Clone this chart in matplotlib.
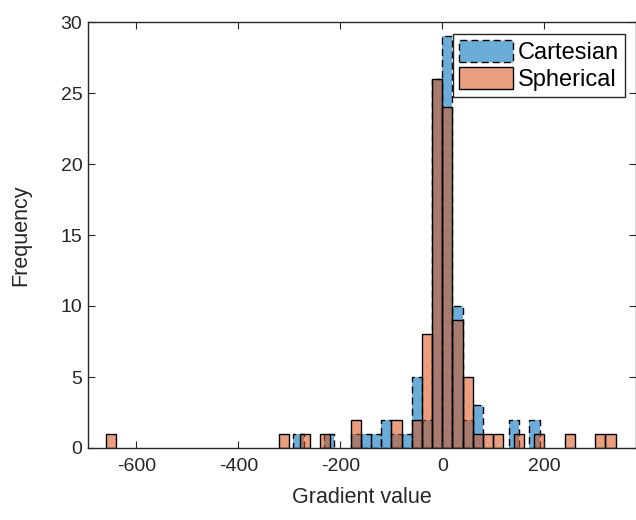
import numpy as np
import matplotlib
matplotlib.use('Agg')
import matplotlib.pyplot as plt
from matplotlib.colors import to_rgba

plt.rcParams['font.family'] = ['Liberation Sans', 'DejaVu Sans']
plt.rcParams['axes.unicode_minus'] = False

# histogram data (bin left edge, count), bin width 20
bin_width = 20
cart_left = [-292, -232, -180, -160, -140, -120, -100, -80, -60, -40, -20, 0, 20, 40, 60, 131, 171]
cart_count = [1, 1, 1, 1, 1, 2, 1, 1, 5, 2, 26, 29, 10, 2, 3, 2, 2]
sph_left = [-660, -320, -280, -240, -180, -100, -60, -40, -20, 0, 20, 40, 60, 80, 100, 140, 180, 240, 300, 320]
sph_count = [1, 1, 1, 1, 2, 2, 2, 8, 26, 24, 9, 5, 1, 1, 1, 1, 1, 1, 1, 1]

x_ticks = [-600, -400, -200, 0, 200]
y_ticks = [0, 5, 10, 15, 20, 25, 30]

blue = to_rgba((0, 0.447, 0.741), 0.58)
orange = to_rgba((0.85, 0.325, 0.098), 0.55)
dark = '#262626'
dash = (0, (5, 3))

fig = plt.figure(figsize=(6.36, 5.2), dpi=100)
ax = fig.add_axes([88 / 636, 72 / 520, 548 / 636, 426 / 520])

# blue first, orange drawn on top -> brown where they overlap
ax.bar(cart_left, cart_count, width=bin_width, align='edge', facecolor=blue,
       edgecolor='none')
ax.bar(cart_left, cart_count, width=bin_width, align='edge', fill=False,
       edgecolor='black', linewidth=1.0, linestyle=dash)
ax.bar(sph_left, sph_count, width=bin_width, align='edge', facecolor=orange,
       edgecolor='none')
ax.bar(sph_left, sph_count, width=bin_width, align='edge', fill=False,
       edgecolor='black', linewidth=1.0)

h1 = matplotlib.patches.Patch(facecolor=blue, edgecolor='black', linewidth=1.0,
                              linestyle=dash, label='Cartesian')
h2 = matplotlib.patches.Patch(facecolor=orange, edgecolor='black', linewidth=1.0,
                              label='Spherical')
leg = ax.legend(handles=[h1, h2], loc='upper right', bbox_to_anchor=(0.98, 0.972),
                borderaxespad=0, fontsize=17, fancybox=False, framealpha=1,
                handlelength=2.3, handleheight=1.05, handletextpad=0.2,
                borderpad=0.25, labelspacing=0.15)
leg.get_frame().set_edgecolor(dark)
leg.get_frame().set_linewidth(1.0)

ax.set_xlim(-695, 380)
ax.set_ylim(0, 30)
ax.set_xticks(x_ticks)
ax.set_yticks(y_ticks)
ax.tick_params(direction='in', top=True, right=True, length=5, width=0.8,
               labelsize=14, colors=dark, pad=4)
ax.tick_params(axis='x', pad=7)
for s in ax.spines.values():
    s.set_color(dark)
    s.set_linewidth(1.0)

ax.set_xlabel('Gradient value', fontsize=15.5, color=dark, labelpad=9)
ax.set_ylabel('Frequency', fontsize=15.5, color=dark, labelpad=21)

fig.savefig('out.png', dpi=100)
